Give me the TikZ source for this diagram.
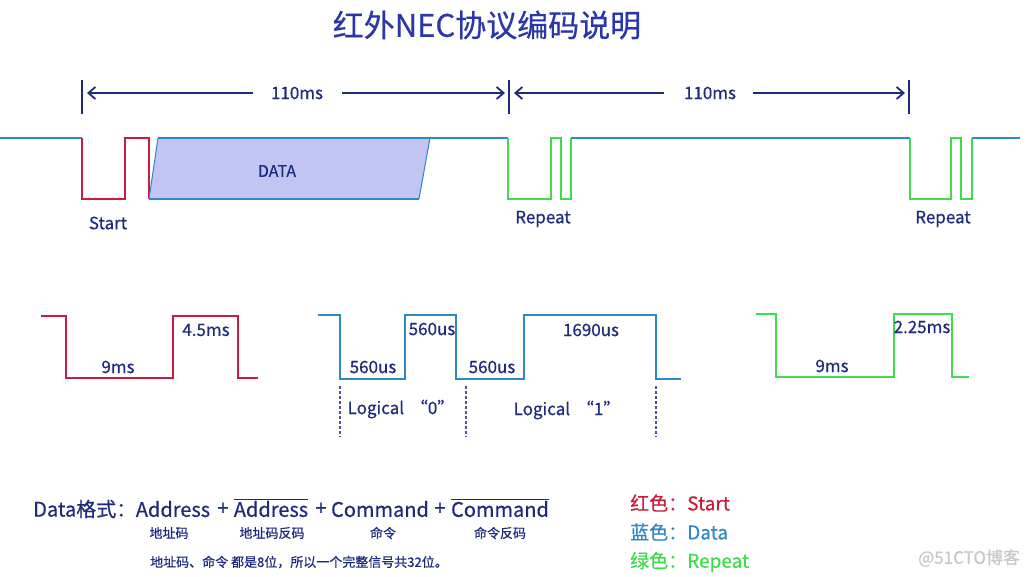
\documentclass[tikz,border=0pt]{standalone}
\usepackage{fontspec}
\setmainfont{Noto Sans CJK SC}[FakeBold=0.45]
\usetikzlibrary{arrows.meta}
\definecolor{navy}{HTML}{1E2A7E}
\definecolor{titleblue}{HTML}{2B37A8}
\definecolor{sigred}{HTML}{C81E3C}
\definecolor{sigblue}{HTML}{2E88C6}
\definecolor{siggreen}{HTML}{3EDC4C}
\definecolor{datafill}{HTML}{C2C4F4}
\definecolor{wmgray}{HTML}{C8C8C8}
\tikzset{
  lbl/.style={text=navy, font=\fontsize{17}{20}\selectfont, inner sep=0pt},
  small/.style={text=navy, font=\fontsize{13}{15}\selectfont, inner sep=0pt},
  fmt/.style={text=navy, font=\fontsize{20}{24}\selectfont, inner sep=0pt},
  leg/.style={font=\fontsize{19}{22}\selectfont, inner sep=0pt, anchor=west},
  wave/.style={line width=2.6pt, line join=miter},
  redw/.style={wave, draw=sigred},
  bluew/.style={wave, draw=sigblue},
  greenw/.style={wave, draw=siggreen},
  tick/.style={draw=navy, line width=2.4pt},
  dim/.style={draw=navy, line width=2.4pt},
  dimarrow/.style={dim, -{Straight Barb[length=7pt,width=12pt,line width=1.8pt]}},
  dashv/.style={draw=navy!80, line width=1.3pt, dash pattern=on 3pt off 2pt}
}
\begin{document}
\begin{tikzpicture}[x=1pt,y=-1pt]
\useasboundingbox (0,0) rectangle (1026,576);
\fill[white] (0,0) rectangle (1026,576);

% title
\node[text=titleblue, font=\fontsize{31}{35}\selectfont, inner sep=0pt] (title) at (487,25) {红外NEC协议编码说明};

% dimension ticks
\coordinate (t1a) at (82,80);  \coordinate (t1b) at (82,114);
\coordinate (t2a) at (509,80); \coordinate (t2b) at (509,114);
\coordinate (t3a) at (909,80); \coordinate (t3b) at (909,114);
\draw[tick] (t1a) -- (t1b);
\draw[tick] (t2a) -- (t2b);
\draw[tick] (t3a) -- (t3b);

\node[lbl] (d1) at (297,93) {110ms};
\node[lbl] (d2) at (710,93) {110ms};
\coordinate (d1l) at (87,93);  \coordinate (d1la) at (253,93);
\coordinate (d1r) at (505,93); \coordinate (d1ra) at (342,93);
\coordinate (d2l) at (514,93); \coordinate (d2la) at (664,93);
\coordinate (d2r) at (905,93); \coordinate (d2ra) at (753,93);
\draw[dimarrow] (d1la) -- (d1l);
\draw[dimarrow] (d1ra) -- (d1r);
\draw[dimarrow] (d2la) -- (d2l);
\draw[dimarrow] (d2ra) -- (d2r);

% top waveform
\draw[bluew] (0,138) -- (82,138);
\draw[redw] (82,138) -- (82,199) -- (125,199) -- (125,138) -- (149,138) -- (149,199);
\fill[datafill] (149,199) -- (158,138) -- (430,138) -- (419,199) -- cycle;
\draw[sigblue, line width=1pt] (149,199) -- (158,138) (430,138) -- (419,199);
\draw[bluew] (149,199) -- (419,199);
\draw[bluew] (158,138) -- (508,138);
\draw[greenw] (508,138) -- (508,199) -- (551,199) -- (551,138) -- (561,138) -- (561,199) -- (571,199) -- (571,138);
\draw[bluew] (571,138) -- (910,138);
\draw[greenw] (910,138) -- (910,199) -- (951,199) -- (951,138) -- (961,138) -- (961,199) -- (972,199) -- (972,138);
\draw[bluew] (972,138) -- (1020,138);

\node[text=navy, font=\fontsize{16}{19}\selectfont, inner sep=0pt] (data) at (277,171) {DATA};
\node[lbl] (start) at (108,223) {Start};
\node[lbl] (rep1) at (543,219) {Repeat};
\node[lbl] (rep2) at (943,219) {Repeat};

% bottom red
\draw[redw] (41,316) -- (66,316) -- (66,378) -- (173,378) -- (173,316) -- (238,316) -- (238,378) -- (258,378);
\node[lbl] (r9) at (118,367) {9ms};
\node[lbl] (r45) at (206,330) {4.5ms};

% bottom blue
\draw[bluew] (318,315) -- (340,315) -- (340,379) -- (405,379) -- (405,315) -- (456,315) -- (456,379) -- (524,379) -- (524,315) -- (656,315) -- (656,379) -- (681,379);
\node[lbl] (b1) at (373,367) {560us};
\node[lbl] (b2) at (432,329) {560us};
\node[lbl] (b3) at (492,367) {560us};
\node[lbl] (b4) at (591,330) {1690us};
\coordinate (v1a) at (340,386); \coordinate (v1b) at (340,437);
\coordinate (v2a) at (466,386); \coordinate (v2b) at (466,437);
\coordinate (v3a) at (656,386); \coordinate (v3b) at (656,437);
\draw[dashv] (v1a) -- (v1b);
\draw[dashv] (v2a) -- (v2b);
\draw[dashv] (v3a) -- (v3b);
\node[lbl] (log0) at (401,409) {Logical\hspace{0.4em}“0”};
\node[lbl] (log1) at (567,410) {Logical\hspace{0.4em}“1”};

% bottom green
\draw[greenw] (756,314) -- (776,314) -- (776,377) -- (894,377) -- (894,314) -- (952,314) -- (952,377) -- (969,377);
\node[lbl] (g9) at (832,366) {9ms};
\node[lbl] (g225) at (922,327) {2.25ms};

% data format
\node[fmt, anchor=west] (dfmt) at (33,509) {Data格式：};
\node[fmt] (a1) at (173,509) {Address};
\node[fmt] (p1) at (223,509) {+};
\node[fmt] (a2) at (271,509) {Address};
\node[fmt] (p2) at (321,509) {+};
\node[fmt] (c1) at (380,509) {Command};
\node[fmt] (p3) at (440,509) {+};
\node[fmt] (c2) at (500,509) {Command};
\draw[navy, line width=1.3pt] ([yshift=1pt]a2.north west) -- ([yshift=1pt]a2.north east);
\draw[navy, line width=1.3pt] ([yshift=1pt]c2.north west) -- ([yshift=1pt]c2.north east);
\node[small] (s1) at (169,533) {地址码};
\node[small] (s2) at (272,533) {地址码反码};
\node[small] (s3) at (383,533) {命令};
\node[small] (s4) at (500,533) {命令反码};
\node[small, anchor=west] (note) at (150,562) {地址码、命令 都是8位，所以一个完整信号共32位。};

% legend
\node[leg, text=sigred] (l1) at (630,503) {红色：Start};
\node[leg, text=sigblue] (l2) at (630,532) {蓝色：Data};
\node[leg, text=siggreen] (l3) at (630,562) {绿色：Repeat};
\node[text=wmgray, font=\fontsize{17}{20}\selectfont, inner sep=0pt, anchor=west] (wm) at (918,558) {@51CTO博客};
\end{tikzpicture}
\end{document}
